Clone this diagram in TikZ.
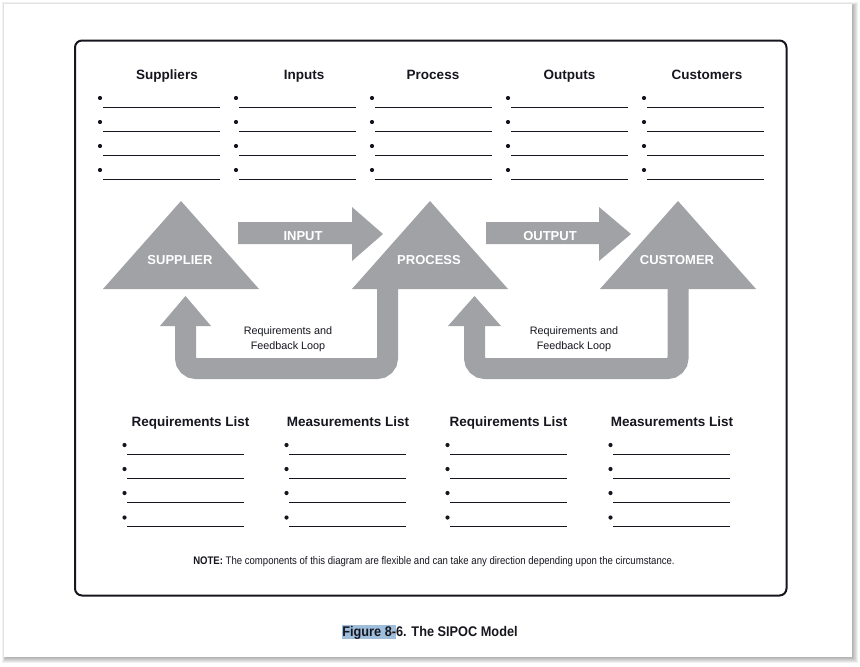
\documentclass[tikz,border=0pt]{standalone}
\usepackage{fontspec}
\setmainfont{Liberation Sans}
\newfontfamily\notefont[FakeStretch=0.87]{Liberation Sans}
\newfontfamily\capfont[FakeStretch=0.91]{Liberation Sans}
\definecolor{ink}{HTML}{16161F}
\definecolor{sgray}{HTML}{A0A2A5}
\definecolor{hl}{HTML}{9FBEDB}
\begin{document}
\begin{tikzpicture}[x=1pt,y=-1pt,
  hdr/.style={font=\fontsize{13.5}{16}\selectfont\bfseries, text=ink, inner sep=0pt, anchor=base},
  trilabel/.style={font=\fontsize{13}{15}\selectfont\bfseries, text=white, inner sep=0pt, anchor=base},
  blob/.style={fill=sgray, draw=none},
  loopband/.style={draw=sgray, line width=21pt, rounded corners=10.5pt},
  rulel/.style={line width=0.9pt, draw=ink},
  dot/.style={circle, fill=ink, inner sep=0pt, minimum size=4.2pt},
  looptext/.style={font=\fontsize{10.8}{16.5}\selectfont, text=ink, inner sep=0pt, anchor=base}]
\useasboundingbox (0,0) rectangle (860,667);
\fill[white] (0,0) rectangle (860,667);
% page shadow
\foreach \k in {1,...,6}{\fill[black,opacity=0.055] ({6-\k*0.6},{6-\k*0.6}) rectangle ({852+\k},{657+\k});}
\fill[white] (4,4) rectangle (852,657);
% frame
\draw[line width=2pt, rounded corners=7pt, draw=ink] (75,40.5) rectangle (786.5,595.5);
% top headers
\node[hdr] (hS) at (167,79) {Suppliers};
\node[hdr] (hI) at (304,79) {Inputs};
\node[hdr] (hP) at (433,79) {Process};
\node[hdr] (hO) at (569.5,79) {Outputs};
\node[hdr] (hC) at (707,79) {Customers};
% top lists
\foreach \c [count=\i] in {103,239,375,511,647}{
  \foreach \r [count=\j] in {107,131,155,179}{
    \node[dot] (tb-\i-\j) at ({\c-3},{\r-9}) {};
    \coordinate (ta-\i-\j) at (\c,\r);
    \coordinate (tz-\i-\j) at ({\c+117},\r);
    \draw[rulel] (ta-\i-\j) -- (tz-\i-\j);
  }}
% triangles
\fill[blob] (103,289) -- (181,201) -- (259,289) -- cycle;
\fill[blob] (352,289) -- (430,201) -- (508,289) -- cycle;
\fill[blob] (600,289) -- (678,201) -- (756,289) -- cycle;
\node[trilabel] (tS) at (180,264) {SUPPLIER};
\node[trilabel] (tP) at (429,264) {PROCESS};
\node[trilabel] (tC) at (677,264) {CUSTOMER};
% block arrows
\fill[blob] (238,222) -- (352,222) -- (352,207) -- (383,234) -- (352,261) -- (352,244) -- (238,244) -- cycle;
\fill[blob] (486,222) -- (599,222) -- (599,207) -- (631,234) -- (599,261) -- (599,244) -- (486,244) -- cycle;
\node[trilabel] (aI) at (303,240.5) {INPUT};
\node[trilabel] (aO) at (550,240.5) {OUTPUT};
% feedback loops
\coordinate (l1a) at (185.5,325);
\coordinate (l1b) at (185.5,368.5);
\coordinate (l1c) at (387.5,368.5);
\coordinate (l1d) at (387.5,288);
\draw[loopband] (l1a) -- (l1b) -- (l1c) -- (l1d);
\fill[blob] (160,326) -- (185.5,296) -- (211,326) -- cycle;
\coordinate (l2a) at (474.5,325);
\coordinate (l2b) at (474.5,368.5);
\coordinate (l2c) at (678,368.5);
\coordinate (l2d) at (678,288);
\draw[loopband] (l2a) -- (l2b) -- (l2c) -- (l2d);
\fill[blob] (448,326) -- (474.5,296) -- (501,326) -- cycle;
\node[looptext] (lt1a) at (288,334.5) {Requirements and};
\node[looptext] (lt1b) at (288,349) {Feedback Loop};
\node[looptext] (lt2a) at (574,334.5) {Requirements and};
\node[looptext] (lt2b) at (574,349) {Feedback Loop};
% bottom headers
\node[hdr] (hR1) at (190.5,426) {Requirements List};
\node[hdr] (hM1) at (348,426) {Measurements List};
\node[hdr] (hR2) at (508.5,426) {Requirements List};
\node[hdr] (hM2) at (672,426) {Measurements List};
% bottom lists
\foreach \c [count=\i] in {127,289,450,613}{
  \foreach \r [count=\j] in {454,478,502,526.5}{
    \node[dot] (bb-\i-\j) at ({\c-2.5},{\r-9}) {};
    \coordinate (ba-\i-\j) at (\c,\r);
    \coordinate (bz-\i-\j) at ({\c+117},\r);
    \draw[rulel] (ba-\i-\j) -- (bz-\i-\j);
  }}
% note
\node[inner sep=0pt, anchor=base, text=ink, font=\notefont\fontsize{11}{13}\selectfont] (note) at (434,564)
  {\textbf{NOTE:} The components of this diagram are flexible and can take any direction depending upon the circumstance.};
% caption
\node[inner sep=0pt, anchor=base, text=ink, font=\capfont\fontsize{14}{16}\selectfont\bfseries] (cap) at (430,636)
  {{\setlength{\fboxsep}{0pt}\colorbox{hl}{\rule[-3pt]{0pt}{14pt}Figure 8-}}6. The SIPOC Model};
\end{tikzpicture}
\end{document}
